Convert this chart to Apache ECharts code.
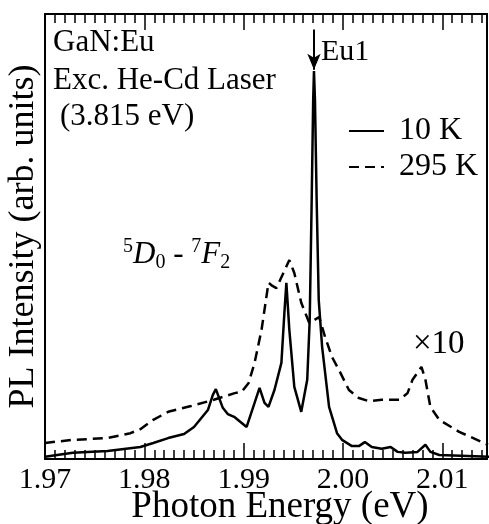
<!DOCTYPE html>
<html>
<head>
<meta charset="utf-8">
<script src="https://cdn.jsdelivr.net/npm/echarts@6/dist/echarts.min.js"></script>
<style>
  html, body { margin: 0; padding: 0; background: #fff; }
  #pl_chart { width: 489px; height: 524px; }
</style>
</head>
<body>
<div id="pl_chart"></div>
<script>
// 10 K spectrum (photon energy in eV, intensity in arb. units)
var energy10K = [1.9700, 1.9728, 1.9763, 1.9796, 1.9809, 1.9824, 1.9840, 1.9850, 1.9864, 1.9869,
  1.9872, 1.9879, 1.9884, 1.9891, 1.9903, 1.9911, 1.9916, 1.9921, 1.9925, 1.9931,
  1.9938, 1.9941, 1.9943, 1.9946, 1.9951, 1.9958, 1.9964, 1.99665, 1.99685, 1.9970,
  1.99708, 1.99718, 1.99735, 1.99756, 1.9979, 1.9986, 1.9994, 1.9999, 2.0009, 2.0016,
  2.0022, 2.0029, 2.0039, 2.0048, 2.0055, 2.0063, 2.0075, 2.0083, 2.0088, 2.0097, 2.0148];
var intensity10K = [0.5, 1.4, 1.8, 2.7, 3.6, 4.7, 5.6, 7.2, 11.0, 14.4,
  15.7, 11.5, 10.1, 9.4, 7.2, 12.6, 16.0, 12.6, 11.7, 15.5,
  21.6, 32.8, 39.6, 29.0, 16.2, 10.6, 17.8, 31.2, 58.2, 80.7,
  87.2, 80.7, 58.2, 35.7, 25.2, 11.7, 5.8, 4.3, 2.9, 2.9,
  3.8, 2.7, 2.3, 2.7, 1.6, 1.4, 1.6, 3.2, 1.6, 0.9, 0.5];

// 295 K spectrum (x10)
var energy295K = [1.9700, 1.9728, 1.9763, 1.9786, 1.9796, 1.9809, 1.9824, 1.9847, 1.9870, 1.9891,
  1.9898, 1.9905, 1.9911, 1.9918, 1.9925, 1.9929, 1.9933, 1.9940, 1.9946, 1.9951,
  1.9958, 1.9966, 1.9971, 1.9976, 1.9982, 1.9989, 1.9996, 2.0006, 2.0016, 2.0026,
  2.0039, 2.0057, 2.0065, 2.0070, 2.0079, 2.0083, 2.0088, 2.0097, 2.0117, 2.0146];
var intensity295K = [3.6, 4.3, 4.7, 5.8, 6.7, 8.8, 10.6, 11.9, 13.3, 14.8,
  15.1, 17.1, 21.6, 29.0, 39.6, 38.9, 38.4, 41.8, 44.7, 41.8,
  35.1, 30.6, 31.2, 31.9, 27.4, 22.9, 20.0, 15.5, 13.7, 13.0,
  13.3, 13.3, 14.8, 17.8, 20.7, 17.8, 11.7, 8.8, 6.1, 3.2];

var seriesNames = ['10 K', '295 K'];
var xMin = 1.97, xMax = 2.0145;
var eu1Energy = 1.99708;

var FONT = '"Liberation Serif", "Times New Roman", serif';

function pairs(xs, ys) {
  return xs.map(function (x, i) { return [x, ys[i]]; });
}

function tickAxis(grid, pos, interval, len, showLine) {
  return {
    type: 'value', gridIndex: grid, position: pos,
    min: xMin, max: xMax, interval: interval,
    axisLine: { show: showLine, onZero: false, lineStyle: { color: '#000', width: 2 } },
    axisTick: { show: true, inside: true, length: len, lineStyle: { color: '#000', width: 1.5 } },
    axisLabel: { show: false },
    splitLine: { show: false }
  };
}

var myChart = echarts.init(document.getElementById('pl_chart'));

var bottomMajor = tickAxis(0, 'bottom', 0.01, 16, true);
bottomMajor.axisLabel = {
  show: true, showMaxLabel: false, margin: 6,
  fontFamily: FONT, fontSize: 30, color: '#000',
  formatter: function (v) { return v.toFixed(2); }
};
bottomMajor.name = 'Photon Energy (eV)';
bottomMajor.nameLocation = 'middle';
bottomMajor.nameGap = 30;
bottomMajor.nameMoveOverlap = false;
bottomMajor.nameTextStyle = { fontFamily: FONT, fontSize: 37, color: '#000', padding: [0, 0, 0, 28] };

var topMajor = tickAxis(0, 'top', 0.01, 16, true);
var bottomMinor = tickAxis(1, 'bottom', 0.001, 9, false);
var topMinor = tickAxis(1, 'top', 0.001, 9, false);

var gridBox = { left: 45, right: 2, top: 14, bottom: 65, outerBoundsMode: 'none', containLabel: false };

var option = {
  backgroundColor: '#fff',
  animation: false,
  grid: [
    Object.assign({}, gridBox),
    Object.assign({}, gridBox)
  ],
  xAxis: [bottomMajor, topMajor, bottomMinor, topMinor],
  yAxis: [
    {
      type: 'value', gridIndex: 0, position: 'left', min: 0, max: 100,
      name: 'PL Intensity (arb. units)', nameLocation: 'middle', nameGap: 3,
      nameTextStyle: { fontFamily: FONT, fontSize: 36, color: '#000' },
      axisLine: { show: true, onZero: false, lineStyle: { color: '#000', width: 2 } },
      axisTick: { show: false }, axisLabel: { show: false }, splitLine: { show: false }
    },
    {
      type: 'value', gridIndex: 0, position: 'right', min: 0, max: 100,
      axisLine: { show: true, onZero: false, lineStyle: { color: '#000', width: 2 } },
      axisTick: { show: false }, axisLabel: { show: false }, splitLine: { show: false }
    },
    {
      type: 'value', gridIndex: 1, min: 0, max: 100, show: false
    }
  ],
  legend: {
    orient: 'vertical', left: 343, top: 110,
    itemWidth: 35, itemHeight: 14, itemGap: 4,
    data: seriesNames,
    itemStyle: { color: 'rgba(0,0,0,0)', borderWidth: 0, opacity: 0 },
    textStyle: { fontFamily: FONT, fontSize: 32, color: '#000', padding: [0, 0, 0, 10] }
  },
  series: [
    {
      name: seriesNames[0], type: 'line', xAxisIndex: 0, yAxisIndex: 0,
      data: pairs(energy10K, intensity10K),
      symbol: 'none', showSymbol: false,
      lineStyle: { color: '#000', width: 2.5 },
      itemStyle: { color: '#000' },
      markLine: {
        silent: true, symbol: ['none', 'arrow'], symbolSize: [10, 16],
        label: { show: false },
        lineStyle: { color: '#000', width: 2, type: 'solid' },
        data: [[{ coord: [eu1Energy, 96.5] }, { coord: [eu1Energy, 87.5] }]]
      }
    },
    {
      name: seriesNames[1], type: 'line', xAxisIndex: 0, yAxisIndex: 0,
      data: pairs(energy295K, intensity295K),
      symbol: 'none', showSymbol: false,
      lineStyle: { color: '#000', width: 2.5, type: [10, 6] },
      itemStyle: { color: '#000' }
    }
  ],
  graphic: [
    { type: 'text', left: 53, top: 27, style: { text: 'GaN:Eu', font: '31px ' + FONT, fill: '#000' } },
    { type: 'text', left: 53, top: 65, style: { text: 'Exc. He-Cd Laser', font: '31px ' + FONT, fill: '#000' } },
    { type: 'text', left: 60, top: 101, style: { text: '(3.815 eV)', font: '31px ' + FONT, fill: '#000' } },
    { type: 'text', left: 321, top: 37, style: { text: 'Eu1', font: '30px ' + FONT, fill: '#000' } },
    { type: 'text', left: 413, top: 328, style: { text: '×10', font: '33px ' + FONT, fill: '#000' } },
    {
      type: 'text', left: 123, top: 237,
      style: {
        text: '{sup|5}{it|D}{sub|0}{n| - }{sup|7}{it|F}{sub|2}',
        fill: '#000',
        font: '30px ' + FONT,
        rich: {
          sup: { fontFamily: FONT, fontSize: 20, verticalAlign: 'top', lineHeight: 20, padding: [0, 0, 12, 0] },
          sub: { fontFamily: FONT, fontSize: 20, verticalAlign: 'bottom', lineHeight: 20, padding: [12, 0, 0, 0] },
          it: { fontFamily: FONT, fontSize: 31, fontStyle: 'italic', lineHeight: 36 },
          n: { fontFamily: FONT, fontSize: 31, lineHeight: 36 }
        }
      }
    }
  ]
};

myChart.setOption(option);
window.onresize = function () { myChart.resize(); };
</script>
</body>
</html>
